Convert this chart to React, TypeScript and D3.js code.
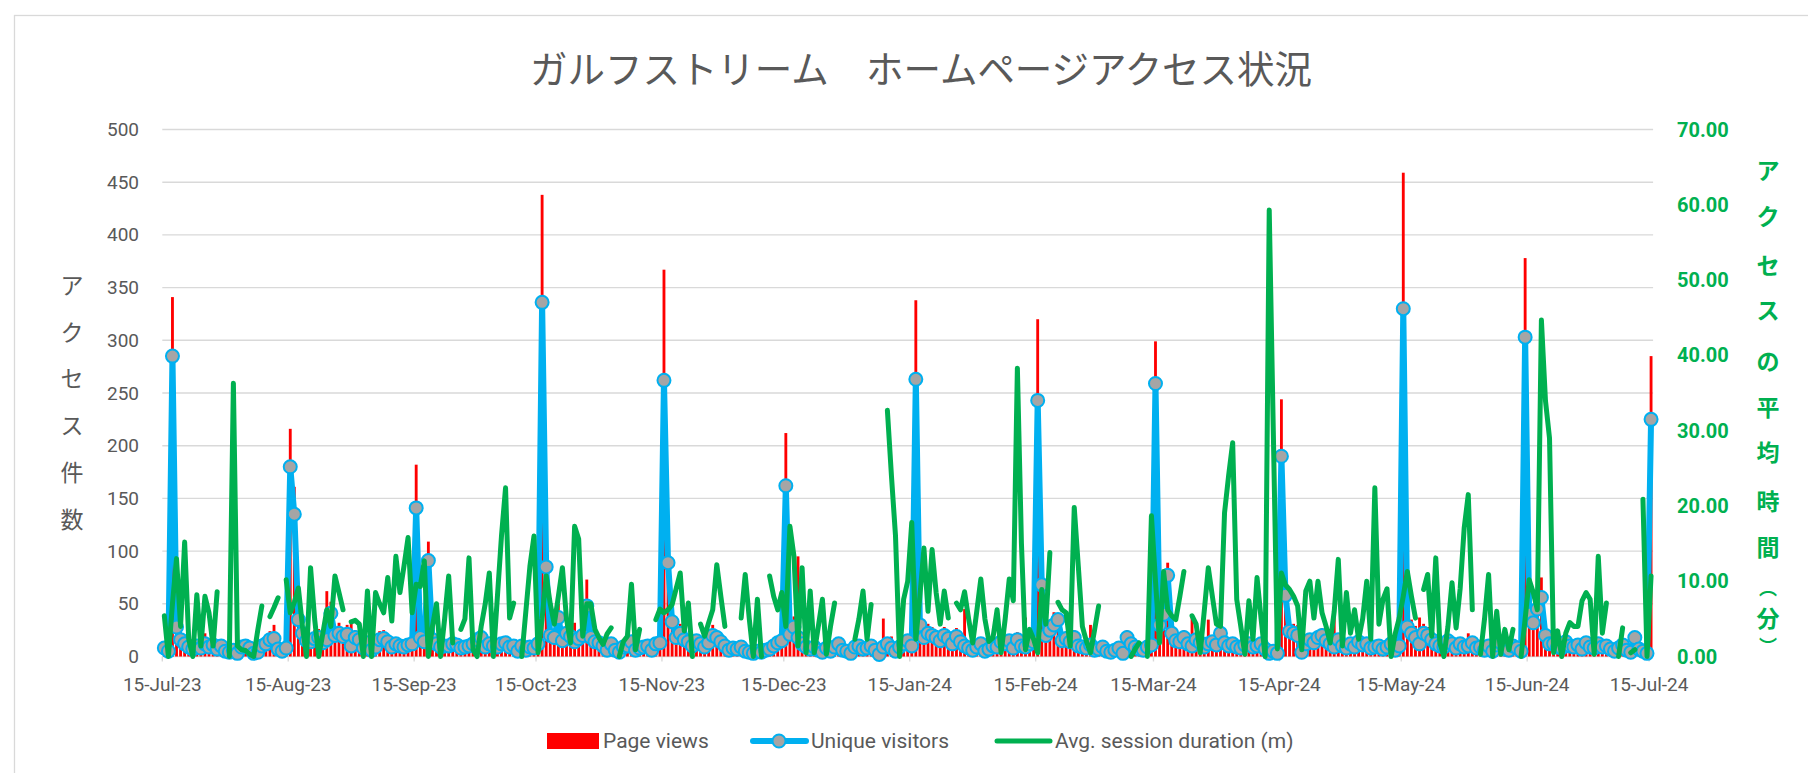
import React from 'react';
import * as d3 from 'd3';

const START = Date.UTC(2023, 6, 15);

const pageViews: number[] = [
  12, 8, 341, 40, 25, 18, 14, 10, 15, 12,
  22, 14, 18, 10, 16, 8, 6, 9, 5, 14,
  15, 12, 5, 6, 15, 18, 24, 30, 10, 8,
  12, 216, 161, 59, 35, 22, 20, 25, 26, 18,
  62, 52, 28, 32, 27, 30, 34, 25, 22, 12,
  18, 9, 13, 24, 25, 20, 13, 17, 15, 13,
  16, 17, 182, 25, 20, 109, 24, 17, 13, 14,
  14, 17, 16, 11, 13, 15, 17, 23, 26, 13,
  17, 14, 13, 17, 19, 13, 14, 8, 15, 9,
  13, 12, 17, 438, 120, 30, 26, 50, 22, 32,
  27, 32, 24, 29, 73, 26, 20, 18, 14, 9,
  17, 9, 6, 13, 14, 20, 9, 12, 13, 14,
  9, 17, 18, 367, 115, 45, 26, 31, 23, 20,
  14, 21, 17, 13, 18, 30, 25, 20, 14, 9,
  11, 10, 13, 7, 6, 5, 7, 6, 9, 10,
  14, 18, 21, 212, 30, 38, 95, 17, 13, 10,
  13, 9, 6, 11, 7, 13, 17, 9, 7, 4,
  13, 14, 10, 11, 14, 9, 3, 36, 17, 19,
  7, 13, 17, 21, 14, 338, 45, 26, 31, 28,
  25, 21, 28, 24, 17, 27, 20, 45, 11, 9,
  13, 17, 7, 10, 14, 13, 20, 17, 21, 11,
  23, 14, 37, 17, 20, 320, 90, 28, 35, 42,
  38, 21, 24, 20, 25, 14, 13, 11, 30, 9,
  10, 13, 7, 6, 9, 11, 4, 25, 17, 13,
  10, 9, 13, 15, 299, 42, 55, 89, 31, 21,
  20, 25, 17, 40, 22, 18, 13, 35, 20, 16,
  30, 21, 14, 17, 13, 11, 15, 17, 13, 14,
  17, 10, 5, 7, 5, 244, 75, 34, 31, 30,
  6, 17, 22, 18, 25, 27, 21, 17, 40, 22,
  14, 11, 17, 13, 20, 15, 17, 11, 13, 14,
  10, 13, 17, 9, 14, 459, 40, 35, 29, 37,
  31, 28, 22, 17, 14, 13, 21, 17, 11, 17,
  13, 22, 18, 11, 13, 9, 14, 7, 15, 18,
  10, 9, 14, 11, 7, 378, 52, 40, 58, 75,
  30, 17, 17, 13, 11, 20, 14, 13, 15, 10,
  18, 13, 11, 17, 13, 14, 10, 7, 11, 15,
  9, 6, 19, 10, 7, 4, 285,
];

const uniqueVisitors: number[] = [
  8, 5, 285, 28, 16, 12, 9, 7, 10, 8,
  12, 9, 11, 7, 10, 5, 4, 6, 3, 9,
  10, 8, 3, 4, 10, 12, 16, 17, 7, 5,
  8, 180, 135, 35, 22, 15, 14, 17, 18, 13,
  16, 41, 20, 22, 19, 21, 10, 18, 16, 8,
  13, 6, 9, 16, 17, 14, 9, 12, 10, 9,
  11, 12, 141, 18, 14, 91, 16, 12, 9, 10,
  10, 12, 11, 8, 9, 10, 12, 16, 18, 9,
  12, 10, 9, 12, 13, 9, 10, 5, 10, 6,
  9, 8, 12, 336, 85, 20, 18, 37, 15, 22,
  19, 14, 17, 20, 48, 18, 14, 13, 10, 6,
  12, 6, 4, 9, 10, 14, 6, 8, 9, 10,
  6, 12, 13, 262, 89, 33, 18, 22, 16, 14,
  10, 15, 12, 9, 13, 20, 18, 14, 10, 6,
  8, 7, 9, 5, 4, 3, 5, 4, 6, 7,
  10, 13, 15, 162, 21, 28, 18, 12, 9, 7,
  9, 6, 4, 8, 5, 9, 12, 6, 5, 3,
  9, 10, 7, 8, 10, 6, 2, 9, 12, 8,
  5, 9, 12, 15, 10, 263, 30, 18, 22, 20,
  18, 15, 20, 17, 12, 19, 14, 10, 8, 6,
  9, 12, 5, 7, 10, 9, 14, 12, 15, 8,
  16, 10, 9, 12, 14, 243, 68, 20, 25, 30,
  35, 15, 17, 14, 18, 10, 9, 8, 11, 6,
  7, 9, 5, 4, 6, 8, 3, 18, 12, 9,
  7, 6, 9, 11, 259, 30, 40, 77, 22, 15,
  14, 18, 12, 10, 16, 13, 9, 12, 14, 11,
  22, 13, 10, 12, 9, 8, 11, 12, 9, 10,
  12, 7, 3, 5, 3, 190, 58, 24, 22, 20,
  4, 12, 16, 13, 18, 20, 15, 12, 9, 16,
  10, 8, 12, 9, 14, 11, 12, 8, 9, 10,
  7, 9, 12, 6, 10, 330, 28, 22, 18, 12,
  22, 20, 16, 12, 10, 9, 15, 12, 8, 12,
  9, 10, 13, 8, 9, 6, 10, 5, 11, 13,
  7, 6, 10, 8, 5, 303, 40, 32, 45, 56,
  20, 12, 12, 9, 8, 14, 10, 9, 11, 7,
  13, 9, 8, 12, 9, 10, 7, 5, 8, 11,
  6, 4, 18, 7, 5, 3, 225,
];

const avgDuration: (number | null)[] = [
  5.4, 0, 7, 13, 4, 15.2, 2.3, 0, 8.2, 1.4,
  8.0, 5.8, 1.4, 8.6, null, null, 0, 36.3, 1.4, 0.9,
  0.8, 0.3, 0, 3.5, 6.7, null, 5.3, 6.5, 7.8, null,
  10.2, 5.8, 7.2, 9.1, 4, 0, 11.8, 5, 0, 3,
  6.2, 4.0, 10.7, 8.5, 6.2, null, 4.6, 4.8, 4.3, 0,
  8.7, 0, 8.5, 7, 5.8, 10.5, 4.7, 13.3, 8.5, 12,
  15.8, 5.8, 9.6, 9.3, 12.7, 0, 4, 7.0, 0, 5,
  10.7, 1.8, null, 3.6, 5, 13.1, 0.9, 0, 4, 7,
  11.1, 0, 8, 16, 22.4, 5.1, 7.1, null, 0, 6,
  12, 16, 0.5, 5, 10.7, 7, 4.3, 8, 11.8, 5,
  1.8, 17.3, 15.6, 2.7, 7.0, 7.0, 3.6, 2.5, 1.6, 3,
  3.8, null, 0, 2, 2.7, 9.6, 0.9, 3.6, null, null,
  null, 4.9, 6.3, 5.8, 6.2, 6.9, 9, 11.1, 3.4, 7.1,
  0, null, 4.3, 2.7, 4.5, 6.2, 12.2, 8, 4.0, null,
  null, null, 5.1, 10.9, 5, 0, 7.6, 0, null, 10.7,
  8, 6.2, 8.5, 4, 17.3, 13.3, 1.4, 11.8, 0.5, 8.7,
  0.5, 4, 7.6, 0.3, 4, 7.1, null, null, null, null,
  2.3, 5, 8.7, 2.3, 6.9, null, null, null, 32.7, 24,
  16.0, 0, 7.6, 10, 17.8, 2.3, 8, 14.4, 6.0, 14.2,
  8.5, 4.3, 8.7, 5.1, null, 7.1, 6.2, 8.6, 5, 1.8,
  6, 10.3, 5, 2.0, 2.5, 6.2, 0.5, 5, 10.3, 7.4,
  38.3, 15, 0.9, 3.6, 2.3, 0.5, 8.9, 4.3, 13.8, null,
  7.2, 6.2, 5.8, 1.4, 19.8, 12, 4.0, 2, 0.5, 3.5,
  6.7, null, null, null, null, null, null, null, 0, 1,
  1.8, null, 0, 18.7, 10, 1.8, 11.3, 6.2, 5.4, 4.9,
  8, 11.3, null, 5.4, 4.3, 0.5, 6, 11.8, 8, 4.3,
  4.0, 19.1, 24, 28.4, 7.6, 4, 0.3, 7.4, 2.3, 10.5,
  5, 0, 59.3, 30, 1, 11.1, 9.5, 8.9, 8.0, 6.7,
  0.9, 8.7, 10.0, 5.1, 10.0, 5.8, 4.0, 1.8, 6, 12.9,
  1.4, 8.5, 3.1, 6.2, 2.3, 5, 10.0, 2.3, 22.4, 4.3,
  7.6, 9.0, 0, 3, 5.1, 8, 11.3, 8.0, 5.1, null,
  8.9, 10.9, 2.7, 13.1, 1.8, 0, 4, 9.8, 3.8, 9,
  17.1, 21.5, 6.2, null, 0.3, 5, 10.9, 0, 6.0, 0.3,
  3.6, 0.9, 3.6, null, 0, 5, 10.2, 8.5, 6.2, 44.7,
  34, 29, 0.5, 3.4, 0, 3.1, 4.5, 4, 4.0, 7.4,
  8.5, 7.6, 0.3, 13.3, 3.1, 7.1, null, null, 0, 3.8,
  null, 0.5, 0.9, null, 20.9, 0, 10.7,
];

const xTickLabels = [
  '15-Jul-23', '15-Aug-23', '15-Sep-23', '15-Oct-23', '15-Nov-23', '15-Dec-23',
  '15-Jan-24', '15-Feb-24', '15-Mar-24', '15-Apr-24', '15-May-24', '15-Jun-24', '15-Jul-24',
];
const leftTicks = [0, 50, 100, 150, 200, 250, 300, 350, 400, 450, 500];
const rightTicks = [0, 10, 20, 30, 40, 50, 60, 70];
const leftTitle = ['ア', 'ク', 'セ', 'ス', '件', '数'];
const rightTitle = ['ア', 'ク', 'セ', 'ス', 'の', '平', '均', '時', '間', '︵', '分', '︶'];
const rightTitleY = [169, 215, 264, 309, 360, 406, 451, 500, 546, 587, 617, 645];
const rightTitleSize = [23, 23, 23, 23, 23, 23, 23, 23, 23, 18, 23, 18];

const TEXT = '#595959';
const GREEN = '#00B050';
const BLUE = '#00B0F0';
const RED = '#FF0000';
const GRID = '#D9D9D9';
const SANS = 'Roboto, "Noto Sans", sans-serif';
const CJK = '"Noto Sans CJK JP", "Noto Sans", sans-serif';

export default function App() {
  const W = 1808;
  const H = 773;
  const n = pageViews.length;
  const dates = pageViews.map((_, i) => d3.utcDay.offset(new Date(START), i));
  const x = d3
    .scaleUtc()
    .domain([new Date(START), d3.utcDay.offset(new Date(START), n)])
    .range([162.3, 1653.1]);
  const dayW = x(dates[1]) - x(dates[0]);
  const cx = (i: number) => x(dates[i]) + dayW / 2;
  const yL = d3.scaleLinear().domain([0, 500]).range([656.5, 129.5]);
  const yR = d3.scaleLinear().domain([0, 70]).range([656.5, 129.5]);

  const tickDates = xTickLabels.map((_, k) => new Date(Date.UTC(2023, 6 + k, 15)));

  const blueLine = d3
    .line<number>()
    .x((_, i) => cx(i))
    .y((d) => yL(d))(uniqueVisitors) as string;

  const greenLine = d3
    .line<number | null>()
    .defined((d) => d !== null)
    .x((_, i) => cx(i))
    .y((d) => yR(d as number))(avgDuration) as string;

  const barW = dayW * 0.7;

  return (
    <svg
      width={W}
      height={H}
      style={{ position: 'absolute', left: 0, top: 0, background: '#fff' }}
    >
      <rect x={0} y={0} width={W} height={H} fill="#fff" />
      <rect x={14.5} y={15.5} width={1830} height={800} fill="#fff" stroke={GRID} strokeWidth={1.3} />

      <text
        x={921}
        y={66}
        textAnchor="middle"
        dominantBaseline="central"
        fontFamily={CJK}
        fontSize={38}
        fill={TEXT}
        textLength={782}
        lengthAdjust="spacingAndGlyphs"
      >
        ガルフストリーム　ホームページアクセス状況
      </text>

      {/* gridlines */}
      {leftTicks.map((t) => (
        <line
          key={'g' + t}
          x1={x.range()[0]}
          x2={x.range()[1]}
          y1={yL(t)}
          y2={yL(t)}
          stroke={GRID}
          strokeWidth={1.4}
        />
      ))}
      {tickDates.map((d, k) => (
        <line key={'tk' + k} x1={x(d)} x2={x(d)} y1={yL(0)} y2={yL(0) + 5} stroke={GRID} strokeWidth={1.4} />
      ))}

      {/* left ticks */}
      {leftTicks.map((t) => (
        <text
          key={'l' + t}
          x={139}
          y={yL(t)}
          textAnchor="end"
          dominantBaseline="central"
          fontFamily={SANS}
          fontSize={19}
          fill={TEXT}
        >
          {t}
        </text>
      ))}
      {/* right ticks */}
      {rightTicks.map((t) => (
        <text
          key={'r' + t}
          x={1677}
          y={yR(t)}
          textAnchor="start"
          dominantBaseline="central"
          fontFamily={SANS}
          fontWeight={700}
          fontSize={20}
          fill={GREEN}
        >
          {t.toFixed(2)}
        </text>
      ))}
      {/* x ticks */}
      {tickDates.map((d, k) => (
        <text
          key={'x' + k}
          x={x(d)}
          y={684}
          textAnchor="middle"
          dominantBaseline="central"
          fontFamily={SANS}
          fontSize={19}
          fill={TEXT}
        >
          {xTickLabels[k]}
        </text>
      ))}

      {/* axis titles */}
      {leftTitle.map((c, i) => (
        <text
          key={'lt' + i}
          x={72}
          y={284 + i * 46.7}
          textAnchor="middle"
          dominantBaseline="central"
          fontFamily={CJK}
          fontSize={23}
          fill={TEXT}
        >
          {c}
        </text>
      ))}
      {rightTitle.map((c, i) => (
        <text
          key={'rt' + i}
          x={1768}
          y={rightTitleY[i]}
          textAnchor="middle"
          dominantBaseline="central"
          fontFamily={CJK}
          fontWeight={700}
          fontSize={rightTitleSize[i]}
          fill={GREEN}
        >
          {c}
        </text>
      ))}

      {/* bars */}
      {pageViews.map((v, i) => (
        <rect
          key={'b' + i}
          x={cx(i) - barW / 2}
          y={yL(v)}
          width={barW}
          height={yL(0) - yL(v)}
          fill={RED}
        />
      ))}

      {/* unique visitors */}
      <path d={blueLine} fill="none" stroke={BLUE} strokeWidth={6} strokeLinejoin="round" />
      {uniqueVisitors.map((v, i) => (
        <circle key={'m' + i} cx={cx(i)} cy={yL(v)} r={6.5} fill="#A5A5A5" stroke={BLUE} strokeWidth={2} />
      ))}

      {/* avg duration */}
      <path
        d={greenLine}
        fill="none"
        stroke={GREEN}
        strokeWidth={5}
        strokeLinejoin="round"
        strokeLinecap="round"
      />

      {/* legend */}
      <rect x={547} y={733} width={52} height={16} fill={RED} />
      <text x={603} y={741} dominantBaseline="central" fontFamily={SANS} fontSize={21} fill={TEXT}>
        Page views
      </text>
      <line x1={753} x2={806} y1={741} y2={741} stroke={BLUE} strokeWidth={6} strokeLinecap="round" />
      <circle cx={779} cy={741} r={6.5} fill="#A5A5A5" stroke={BLUE} strokeWidth={2} />
      <text x={811} y={741} dominantBaseline="central" fontFamily={SANS} fontSize={21} fill={TEXT}>
        Unique visitors
      </text>
      <line x1={997} x2={1050} y1={741} y2={741} stroke={GREEN} strokeWidth={5} strokeLinecap="round" />
      <text x={1055} y={741} dominantBaseline="central" fontFamily={SANS} fontSize={21} fill={TEXT}>
        Avg. session duration (m)
      </text>
    </svg>
  );
}
